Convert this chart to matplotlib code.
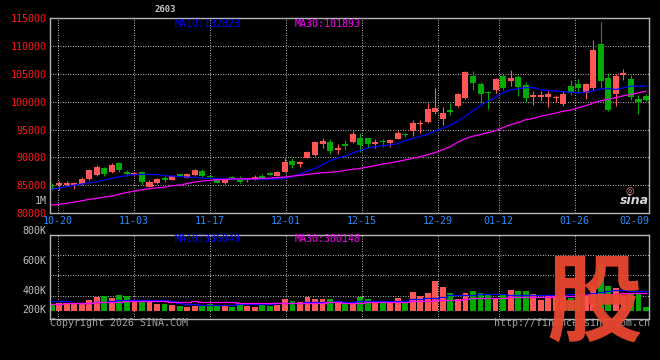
import matplotlib
matplotlib.use("Agg")
import matplotlib.pyplot as plt
import matplotlib.transforms as mtransforms
import numpy as np

# ---------------- data ----------------
dates = ["10-17",
         "10-20", "10-21", "10-22", "10-23", "10-24",
         "10-27", "10-28", "10-29", "10-30", "10-31",
         "11-03", "11-04", "11-05", "11-06", "11-07",
         "11-10", "11-11", "11-12", "11-13", "11-14",
         "11-17", "11-18", "11-19", "11-20", "11-21",
         "11-24", "11-25", "11-26", "11-27", "11-28",
         "12-01", "12-02", "12-03", "12-04", "12-05",
         "12-08", "12-09", "12-10", "12-11", "12-12",
         "12-15", "12-16", "12-17", "12-18", "12-19",
         "12-22", "12-23", "12-24", "12-25", "12-26",
         "12-29", "12-30", "12-31",
         "01-05", "01-06", "01-07", "01-08", "01-09",
         "01-12", "01-13", "01-14", "01-15", "01-16",
         "01-19", "01-20", "01-21", "01-22", "01-23",
         "01-26", "01-27", "01-28", "01-29", "01-30",
         "02-02", "02-03", "02-04", "02-05", "02-06",
         "02-09"]

opens = [84560, 85000, 85100, 85100, 85200, 86100, 86850, 88000, 87400, 88900,
         87400, 87050, 87300, 84750, 85450, 86300, 86000, 86950, 86350, 86850,
         87600, 86550, 86050, 85400, 86500, 86200, 85900, 86000, 86700, 87200,
         86650, 87400, 89400, 88850, 89950, 90400, 92400, 92800, 91250, 92400,
         92750, 93450, 93400, 92400, 92780, 92500, 93350, 94050, 94800, 95980,
         96400, 98150, 96950, 98500, 99250, 100600, 104600, 103150, 101700, 102100,
         104600, 103750, 104400, 102950, 100820, 100850, 100800, 100600, 99600, 102800,
         103250, 101650, 102400, 110300, 104200, 101350, 104780, 104050, 100450, 101050]
highs = [85350, 85700, 85800, 85500, 86400, 87900, 88550, 88300, 88950, 89200,
         87750, 87300, 87500, 85900, 86300, 86600, 86800, 87100, 87150, 87900,
         87950, 86650, 86100, 86100, 86600, 86600, 86250, 86850, 87100, 87300,
         87550, 89800, 89950, 89300, 91100, 93000, 93400, 93250, 92350, 93100,
         94800, 94400, 93500, 93350, 93350, 93350, 94750, 94400, 96650, 96700,
         99800, 102550, 99100, 99800, 101500, 105550, 105550, 103550, 101950, 104350,
         104900, 105650, 104800, 103550, 101900, 101900, 101900, 101300, 101900, 103850,
         104000, 103300, 111050, 114350, 105100, 104900, 105950, 104750, 101300, 101400]
lows = [84100, 84200, 84900, 84400, 85100, 85900, 86700, 86650, 87200, 87400,
        86700, 86650, 85300, 84700, 85300, 85500, 85900, 86500, 86250, 86700,
        86500, 86300, 85400, 85300, 86200, 85400, 85600, 85950, 86300, 86750,
        86600, 87300, 88050, 88300, 89850, 90200, 91600, 90600, 90600, 91300,
        92600, 91000, 91700, 91600, 91900, 91800, 93300, 93600, 93850, 94400,
        96100, 97750, 95800, 97600, 99100, 100450, 102200, 99800, 98700, 101500,
        102100, 102800, 101000, 99900, 99500, 100200, 99100, 99870, 99250, 101200,
        101650, 100450, 102100, 102400, 98400, 99250, 103850, 100300, 97750, 100100]
closes = [84250, 85450, 85450, 85350, 86050, 87750, 88200, 87000, 88600, 87700,
          86950, 87250, 85650, 85600, 86050, 85950, 86600, 86650, 87000, 87650,
          86650, 86400, 85450, 86050, 86300, 85500, 86100, 86550, 86350, 86850,
          87400, 89200, 88600, 89200, 91000, 92800, 92950, 91150, 91750, 92000,
          94200, 92200, 92400, 92850, 92680, 93100, 94400, 93950, 96100, 96200,
          98700, 98800, 98050, 98150, 101350, 105350, 103300, 101350, 101550, 104100,
          102500, 104300, 102700, 100700, 101300, 101300, 101400, 100800, 101400, 101650,
          102400, 103150, 109250, 103700, 98500, 104600, 105250, 100900, 99880, 100300]

ma10 = [84252, 84485, 84718, 85023, 85203, 85472, 85616, 85921, 86226, 86513,
        86729, 86908, 86944, 86944, 86908, 86729, 86639, 86549, 86459, 86370,
        86280, 86226, 86190, 86100, 86100, 86100, 86100, 86100, 86100, 86100,
        86100, 86226, 86549, 86998, 87536, 87985, 88703, 89421, 89870, 90229,
        90767, 91216, 91665, 91934, 92114, 92239, 92473, 93011, 93370, 93765,
        94178, 94716, 95255, 95793, 96511, 97409, 98396, 99294, 100101, 100819,
        101627, 102166, 102345, 102525, 102561, 102166, 101986, 101950, 101807, 101717,
        101591, 101717, 101950, 102345, 102345, 102202, 102525, 102794, 102794, 102823]
ma30 = [81433, 81559, 81739, 81972, 82205, 82457, 82636, 82870, 83049, 83408,
        83677, 83947, 84162, 84395, 84521, 84629, 84916, 85024, 85293, 85562,
        85742, 85867, 85957, 86047, 86101, 86136, 86154, 86154, 86226, 86280,
        86370, 86460, 86639, 86765, 86962, 87088, 87249, 87321, 87447, 87662,
        87860, 88021, 88255, 88524, 88793, 89008, 89278, 89547, 89834, 90139,
        90498, 90857, 91396, 91934, 92742, 93370, 93819, 94088, 94447, 94806,
        95345, 95883, 96242, 96781, 96996, 97409, 97678, 97948, 98307, 98486,
        98935, 99294, 99796, 100191, 100461, 100730, 101089, 101322, 101591, 101893]

volumes_k = [115, 127, 115, 138, 138, 184, 236, 253, 218, 270,
             253, 173, 173, 150, 115, 115, 98, 81, 69, 87,
             81, 110, 81, 81, 69, 98, 81, 64, 98, 87,
             98, 201, 167, 144, 236, 201, 201, 196, 167, 118,
             138, 236, 201, 144, 144, 173, 218, 155, 322, 253,
             305, 517, 408, 305, 196, 305, 339, 305, 293, 224,
             282, 356, 339, 339, 282, 184, 259, 250, 260, 213,
             230, 280, 400, 786, 420, 396, 250, 300, 280, 60]
vol_ma10_k = [167, 167, 167, 138, 138, 138, 150, 155, 170, 184,
              184, 184, 184, 184, 184, 184, 160, 130, 110, 110,
              105, 98, 98, 98, 98, 120, 120, 120, 120, 120,
              125, 138, 138, 140, 150, 150, 150, 155, 160, 158,
              155, 160, 167, 167, 167, 167, 167, 170, 201, 201,
              224, 224, 230, 270, 270, 270, 270, 293, 293, 293,
              290, 270, 270, 270, 270, 270, 270, 275, 278, 280,
              285, 295, 305, 325, 340, 350, 350, 345, 340, 336.049]
vol_ma30_k = [110, 110, 127, 127, 127, 127, 144, 144, 144, 144,
              167, 167, 167, 167, 167, 167, 155, 155, 155, 173,
              155, 155, 155, 155, 155, 127, 127, 127, 127, 127,
              127, 138, 138, 138, 138, 138, 138, 150, 150, 140,
              135, 135, 144, 144, 144, 144, 144, 144, 167, 167,
              167, 184, 184, 184, 184, 200, 213, 213, 213, 213,
              220, 241, 241, 241, 241, 241, 241, 250, 255, 260,
              265, 270, 275, 285, 290, 295, 298, 300, 300, 300.148]

price_ticks = [80000, 85000, 90000, 95000, 100000, 105000, 110000, 115000]
price_tick_labels = ["80000", "85000", "90000", "95000", "100000", "105000", "110000", "115000"]
date_labels = ["10-20", "11-03", "11-17", "12-01", "12-15", "12-29", "01-12", "01-26", "02-09"]
vol_labels = ["800K", "600K", "400K", "200K"]
vol_label_pos = [1.044, 0.687, 0.330, 0.100]   # axes fraction (as drawn by source)
vol_grid_pos = [0.758, 0.520, 0.274]
title_text = "2603"
ma_price_texts = ["MA10:102823", "MA30:101893"]
ma_vol_texts = ["MA10:336049", "MA30:300148"]

# ---------------- style ----------------
RED = "#ff5656"
GREEN = "#00aa00"
BLUE = "#0000ff"
MAG = "#ff00ff"
FRAME = "#b4b4b4"
GRID = "#d0d0d0"
MONO = "DejaVu Sans Mono"
FS = 7.2

W, H = 660, 360
fig = plt.figure(figsize=(W / 100, H / 100), dpi=100, facecolor="black")

L, R = 50.3, 649.3
P_TOP, P_BOT = 18.3, 213.0
V_TOP, V_BOT = 234.7, 318.7
ax = fig.add_axes([L / W, 1 - P_BOT / H, (R - L) / W, (P_BOT - P_TOP) / H])
ax2 = fig.add_axes([L / W, 1 - V_BOT / H, (R - L) / W, (V_BOT - V_TOP) / H])

CSTEP = 7.523   # px per candle
GSTEP = 7.6     # px per date gridline step
x = np.arange(len(dates))
xlim = ((L - 51.7) / CSTEP, (R - 51.7) / CSTEP)
date_idx = [dates.index(d) for d in date_labels]
grid_x = [(i * GSTEP - 1.6) / CSTEP for i in date_idx]

o = np.array(opens, float); c = np.array(closes, float)
h = np.array(highs, float); l = np.array(lows, float)
up = c >= o
cols = np.where(up, RED, GREEN)

gls = (0, (0.8, 1.6))
for a in (ax, ax2):
    a.set_facecolor("black")
    for s in a.spines.values():
        s.set_color(FRAME)
        s.set_linewidth(1.0)
    a.set_xlim(*xlim)
    a.set_xticks([])
    for gx in grid_x:
        if xlim[0] < gx < xlim[1]:
            a.axvline(gx, color=GRID, lw=0.75, ls=gls, zorder=0.5)

# price panel
ax.set_ylim(80000, 115000)
ax.set_yticks(price_ticks)
ax.set_yticklabels(price_tick_labels, color="#ff1a1a", fontsize=FS, family=MONO)
ax.tick_params(axis="y", length=0, pad=2.6)
ax.yaxis.grid(True, color=GRID, lw=0.75, ls=gls, zorder=0.5)
ax.set_axisbelow(True)

ax.vlines(x, l, h, colors=cols, lw=0.8, zorder=2)
body_h = np.maximum(np.abs(c - o), 180)
ax.bar(x, body_h, bottom=np.minimum(o, c), width=0.8, color=cols, zorder=2.5, linewidth=0)
ax.plot(x, ma10, color=BLUE, lw=0.9, zorder=3)
ax.plot(x, ma30, color=MAG, lw=0.9, zorder=3)

for gx, lbl, i in zip(grid_x, date_labels, date_idx):
    trans = mtransforms.blended_transform_factory(ax.transData, ax.transAxes)
    if gx < xlim[1]:
        ax.text(gx, -8.2 / (P_BOT - P_TOP), lbl, transform=trans, ha="center", va="center",
                color="#2a8cff", fontsize=FS, family=MONO)
    else:
        ax.text(1.0, -8.2 / (P_BOT - P_TOP), lbl, transform=ax.transAxes, ha="right", va="center",
                color="#2a8cff", fontsize=FS, family=MONO)

# volume panel
vols = np.array(volumes_k) * 1000
ax2.set_ylim(-137600, 1307200)
ax2.set_yticks([])
for f in vol_grid_pos:
    ax2.plot([0, 1], [f, f], transform=ax2.transAxes, color=GRID, lw=0.75, ls=gls, zorder=0.5)
ax2.bar(x, vols, width=0.78, color=cols, linewidth=0, zorder=2)
ax2.plot(x, np.array(vol_ma10_k) * 1000, color=BLUE, lw=0.9, drawstyle="steps-mid", zorder=3)
ax2.plot(x, np.array(vol_ma30_k) * 1000, color=MAG, lw=0.9, drawstyle="steps-mid", zorder=3)
for lbl, f in zip(vol_labels, vol_label_pos):
    ax2.text(-3.6 / (R - L), f, lbl, transform=ax2.transAxes, ha="right", va="center",
             color="#c0c0c0", fontsize=FS, family=MONO)

# texts
fig.text(46.7 / W, 1 - 200.7 / H, "1M", ha="right", va="center", color="#c0c0c0", fontsize=FS, family=MONO)
fig.text(165 / W, 1 - 9 / H, title_text, ha="center", va="center", color="#c8c8c8", fontsize=6.5,
         family=MONO, fontweight="bold")
fig.text(175 / W, 1 - 23.7 / H, ma_price_texts[0], ha="left", va="center", color=BLUE, fontsize=FS, family=MONO)
fig.text(295 / W, 1 - 23.7 / H, ma_price_texts[1], ha="left", va="center", color=MAG, fontsize=FS, family=MONO)
fig.text(175 / W, 1 - 238.5 / H, ma_vol_texts[0], ha="left", va="center", color=BLUE, fontsize=FS, family=MONO)
fig.text(295 / W, 1 - 238.5 / H, ma_vol_texts[1], ha="left", va="center", color=MAG, fontsize=FS, family=MONO)
fig.text(50 / W, 1 - 323 / H, "Copyright 2026 SINA.COM", ha="left", va="center", color="#a0a0a0",
         fontsize=FS, family=MONO)
fig.text(650 / W, 1 - 323 / H, "http://finance.sina.com.cn", ha="right", va="center", color="#a0a0a0",
         fontsize=FS, family=MONO)
fig.text(634 / W, 1 - 201 / H, "sina", ha="center", va="center", color="#d8d8d8", fontsize=9,
         fontweight="bold", style="italic", family="DejaVu Sans")
fig.text(630 / W, 1 - 191 / H, "\u25ce", ha="center", va="center", color="#ff8a8a", fontsize=7,
         family="DejaVu Sans")
fig.text(594 / W, 1 - 306 / H, "股", ha="center", va="center", color="#e8472f", fontsize=69,
         family=["Noto Sans CJK SC"], fontweight="heavy", alpha=0.95, zorder=10)

fig.savefig("out.png", dpi=100, facecolor="black")
